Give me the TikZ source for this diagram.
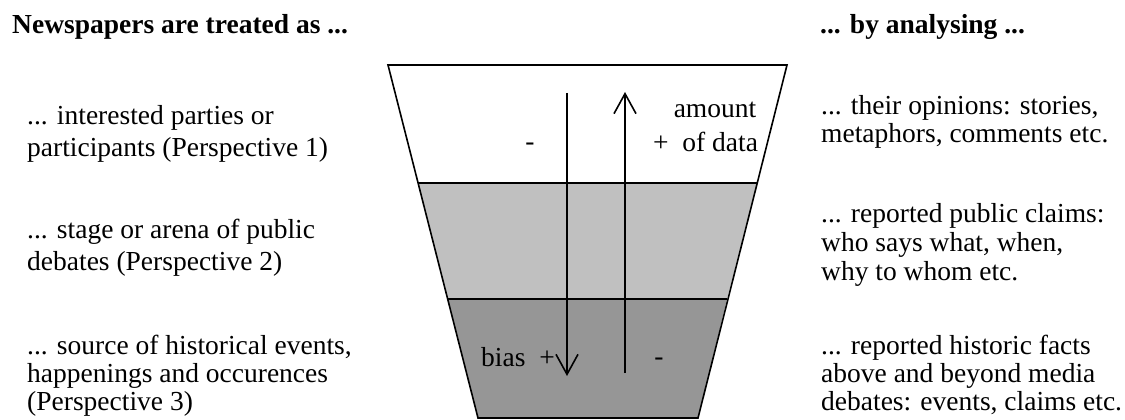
\documentclass[tikz,border=0pt]{standalone}
\usepackage{fontspec}
\setmainfont{Liberation Serif}
\usetikzlibrary{arrows.meta}
\definecolor{midgray}{HTML}{C0C0C0}
\definecolor{lowgray}{HTML}{969696}
\tikzset{
  band/.style={draw=black, line width=1.6pt, line join=miter},
  txt/.style={inner sep=0pt, align=left, anchor=base west, font=\fontsize{27.5}{#1}\selectfont},
  hdr/.style={inner sep=0pt, anchor=base west, font=\fontsize{27.5}{30}\selectfont\bfseries},
  lbl/.style={inner sep=0pt, font=\fontsize{27.5}{30}\selectfont},
  flow/.style={line width=1.6pt, -{Straight Barb[length=20pt,width=22pt,line width=1.6pt]}}
}
\begin{document}
\begin{tikzpicture}[x=1pt,y=-1pt]
\useasboundingbox (0,0) rectangle (1125,420);
% bands
\fill[lowgray] (448,299) -- (727,299) -- (698,418) -- (478,418) -- cycle;
\fill[midgray] (418,183) -- (757,183) -- (727,299) -- (448,299) -- cycle;
\draw[band] (388,65) -- (787,65) -- (698,418) -- (478,418) -- cycle;
\draw[band] (418,183) -- (757,183);
\draw[band] (448,299) -- (727,299);
% arrows
\coordinate (dtop) at (567,93);
\coordinate (dbot) at (567,376);
\coordinate (ubot) at (625,373);
\coordinate (utop) at (625,92);
\draw[flow] (dtop) -- (dbot);
\draw[flow] (ubot) -- (utop);
% labels in funnel
\node[lbl] (m1) at (530,147) {-};
\node[lbl] (amt) at (715,110) {amount};
\node[lbl, anchor=base west] (dat) at (653,151) {+\ \ of data};
\node[lbl, anchor=base west] (bias) at (481,366) {bias\ \ +};
\node[lbl] (m2) at (659,362) {-};
% headers
\node[hdr] (hl) at (12,34) {Newspapers are treated as ...};
\node[hdr] (hr) at (820,34) {... by analysing ...};
% left texts (anchor = baseline of last line)
\node[txt=32] (l1) at (27,156) {... interested parties or\\participants (Perspective 1)};
\node[txt=32] (l2) at (27,270) {... stage or arena of public\\debates (Perspective 2)};
\node[txt=28] (l3) at (27,410) {... source of historical events,\\happenings and occurences\\(Perspective 3)};
% right texts
\node[txt=28] (r1) at (821,142) {... their opinions: stories,\\metaphors, comments etc.};
\node[txt=29] (r2) at (821,280) {... reported public claims:\\who says what, when,\\why to whom etc.};
\node[txt=28] (r3) at (821,410) {... reported historic facts\\above and beyond media\\debates: events, claims etc.};
\end{tikzpicture}
\end{document}
